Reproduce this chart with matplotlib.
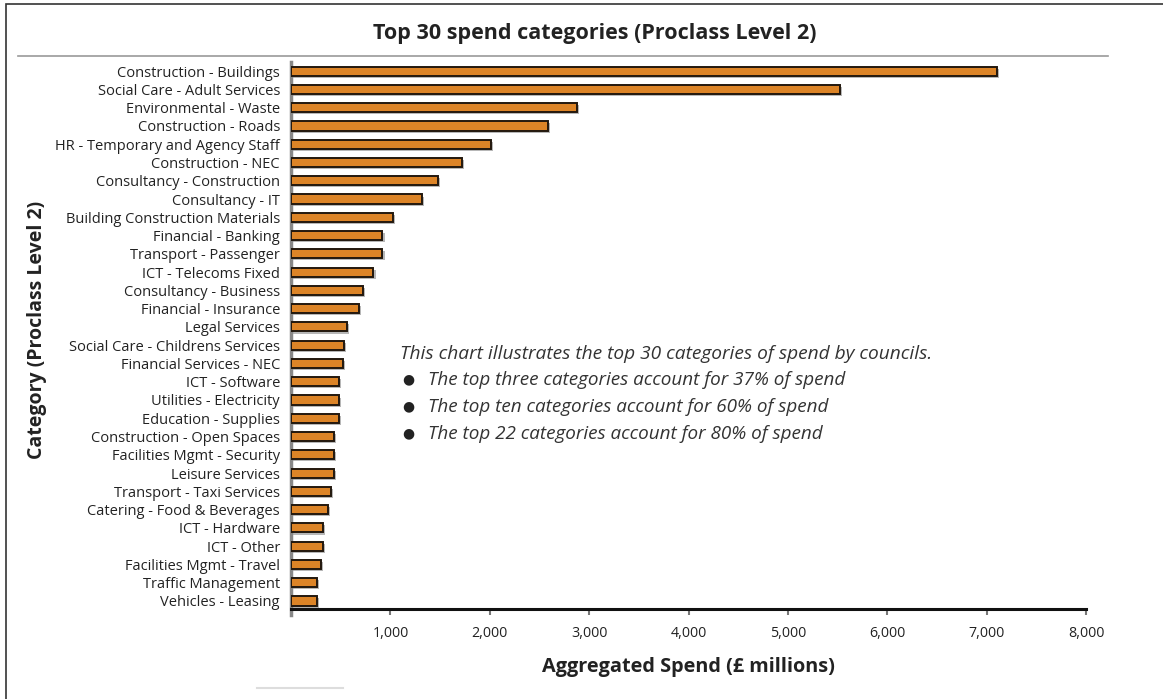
import matplotlib
matplotlib.use("Agg")
import matplotlib.pyplot as plt
import matplotlib.patheffects as pe
from matplotlib.patches import Rectangle
from matplotlib.lines import Line2D

categories = [
    "Construction - Buildings", "Social Care - Adult Services", "Environmental - Waste",
    "Construction - Roads", "HR - Temporary and Agency Staff", "Construction - NEC",
    "Consultancy - Construction", "Consultancy - IT", "Building Construction Materials",
    "Financial - Banking", "Transport - Passenger", "ICT - Telecoms Fixed",
    "Consultancy - Business", "Financial - Insurance", "Legal Services",
    "Social Care - Childrens Services", "Financial Services - NEC", "ICT - Software",
    "Utilities - Electricity", "Education - Supplies", "Construction - Open Spaces",
    "Facilities Mgmt - Security", "Leisure Services", "Transport - Taxi Services",
    "Catering - Food & Beverages", "ICT - Hardware", "ICT - Other",
    "Facilities Mgmt - Travel", "Traffic Management", "Vehicles - Leasing",
]
spend = [
    7100, 5520, 2880, 2590, 2010, 1720, 1480, 1320, 1030, 920,
    920, 830, 720, 680, 560, 530, 520, 480, 480, 480,
    430, 430, 430, 400, 370, 320, 320, 300, 260, 260,
]
xticks = [1000, 2000, 3000, 4000, 5000, 6000, 7000, 8000]
xticklabels = ["1,000", "2,000", "3,000", "4,000", "5,000", "6,000", "7,000", "8,000"]
title = "Top 30 spend categories (Proclass Level 2)"
xlabel = "Aggregated Spend (£ millions)"
ylabel = "Category (Proclass Level 2)"
note_intro = "This chart illustrates the top 30 categories of spend by councils."
note_bullets = [
    "The top three categories account for 37% of spend",
    "The top ten categories account for 60% of spend",
    "The top 22 categories account for 80% of spend",
]

plt.rcParams['font.family'] = ['Open Sans', 'DejaVu Sans']

W, H = 1163, 699
fig = plt.figure(figsize=(W / 100, H / 100), dpi=100)

# axes placement in pixels
ax_left, ax_right = 291, 1086
ax_top, ax_bottom = 62, 609
ax = fig.add_axes([ax_left / W, 1 - ax_bottom / H, (ax_right - ax_left) / W, (ax_bottom - ax_top) / H])

n = len(categories)
ypos = list(range(n))
bars = ax.barh(ypos, spend, height=0.5, color="#DC8427", edgecolor="#22180e", linewidth=1.4, zorder=3)
for b in bars:
    b.set_path_effects([pe.SimplePatchShadow(offset=(1.5, -1.5), shadow_rgbFace="#888888", alpha=0.6), pe.Normal()])

ax.set_xlim(0, 8000)
ax.set_ylim(29.44, -0.5)
ax.set_yticks(ypos)
ax.set_yticklabels(categories, fontsize=10.5, color="#222222")
ax.set_xticks(xticks)
ax.set_xticklabels(xticklabels, fontsize=10.3, color="#222222")
ax.tick_params(axis="y", length=0, pad=8)
ax.tick_params(axis="x", length=4, width=1.5, color="#777777", pad=8, direction="out")

for s in ["top", "right"]:
    ax.spines[s].set_visible(False)
ax.spines["left"].set_color("#888888")
ax.spines["left"].set_linewidth(2.5)
ax.spines["left"].set_bounds(29.75, -0.5)
ax.spines["bottom"].set_color("#111111")
ax.spines["bottom"].set_linewidth(2.2)

ax.set_xlabel(xlabel, fontsize=14.3, fontweight="bold", color="#222222", labelpad=12)

# y label placed in figure coordinates
fig.text(37 / W, 1 - 330 / H, ylabel, rotation=90, fontsize=14, fontweight="bold",
         color="#222222", ha="center", va="center")

# title and separator line
fig.text(595 / W, 1 - 33 / H, title, fontsize=15.5, fontweight="bold", color="#222222",
         ha="center", va="center")
fig.add_artist(Line2D([18 / W, 1108 / W], [1 - 56 / H, 1 - 56 / H], color="#999999", linewidth=1.2))

# outer border
fig.add_artist(Rectangle((6 / W, -0.01), 1.2, 1 - 4 / H + 0.01, fill=False, edgecolor="#333333",
                         linewidth=1.2, transform=fig.transFigure))

# faint artifact line at bottom
fig.add_artist(Line2D([257 / W, 343 / W], [1 - 688 / H, 1 - 688 / H], color="#dddddd", linewidth=1.5))

# annotation
fig.text(400 / W, 1 - 354 / H, note_intro, fontsize=13.8, style="italic", color="#333333", ha="left", va="center")
for i, t in enumerate(note_bullets):
    yy = 1 - (380 + 27 * i) / H
    fig.text(408 / W, yy, "\u25CF", fontsize=10, color="#222222", ha="center", va="center")
    fig.text(428 / W, yy, t, fontsize=13.6, style="italic", color="#333333", ha="left", va="center")

fig.savefig("out.png", dpi=100)
